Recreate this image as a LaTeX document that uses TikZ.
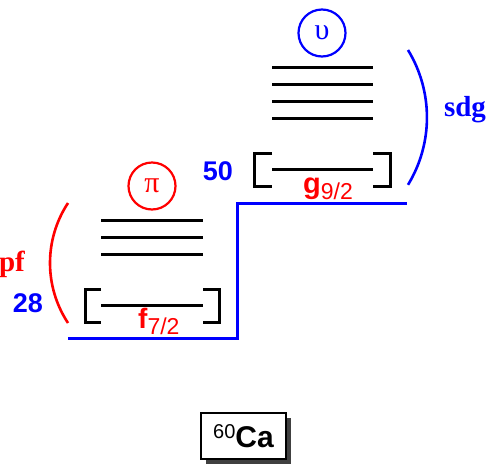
\documentclass[tikz,border=0pt]{standalone}
\usepackage{fontspec}
\setmainfont{Liberation Serif}
\setsansfont{Liberation Sans}
\begin{document}
\begin{tikzpicture}[x=1pt,y=-1pt,
  level/.style={line width=3pt,black},
  brk/.style={line width=3pt,black},
  shell/.style={line width=3pt,blue},
  magic/.style={font=\sffamily\bfseries\fontsize{27}{27}\selectfont,text=blue,inner sep=0pt},
  orb/.style={inner sep=0pt,text=red,font=\sffamily},
  ring/.style={circle,draw,line width=2.2pt,minimum size=47pt,inner sep=0pt,font=\fontsize{30}{30}\selectfont},
  grp/.style={font=\bfseries\fontsize{29}{29}\selectfont,inner sep=0pt}]
\useasboundingbox (0,0) rectangle (490,464);
% shell closure line
\draw[shell] (68,338) -- (237,338) -- (237,203) -- (407,203);
% left (proton) panel
\foreach \y in {220,237,254} \draw[level] (101,\y) -- (203,\y);
\draw[level] (101,305) -- (203,305);
\draw[brk] (101,289) -- (85,289) -- (85,322) -- (101,322);
\draw[brk] (203,289) -- (219,289) -- (219,322) -- (203,322);
\node[ring,draw=red,text=red] (pi) at (152,186) {π};
\node[orb,anchor=base west] (f72) at (138,328) {{\bfseries\fontsize{28}{28}\selectfont f}\raisebox{-6pt}{\fontsize{23}{23}\selectfont 7/2}};
\node[grp,text=red] (pf) at (12,264) {pf};
\node[magic] (n28) at (28,303) {28};
\draw[red,line width=2.6pt] (68,203) arc[start angle=213.4,end angle=146.6,radius=109];
% right (neutron) panel
\foreach \y in {67,84,101,118} \draw[level] (272,\y) -- (373,\y);
\draw[level] (272,169) -- (373,169);
\draw[brk] (272,153) -- (254,153) -- (254,186) -- (272,186);
\draw[brk] (373,153) -- (390,153) -- (390,186) -- (373,186);
\node[ring,draw=blue,text=blue] (nu) at (322,33) {υ};
\node[orb,anchor=base west] (g92) at (303,193) {{\bfseries\fontsize{29}{29}\selectfont g}\raisebox{-6pt}{\fontsize{23}{23}\selectfont 9/2}};
\node[grp,text=blue] (sdg) at (465,110) {sdg};
\node[magic] (n50) at (218,171) {50};
\draw[blue,line width=2.6pt] (408,50) arc[start angle=-31.4,end angle=31.4,radius=129.4];
% nucleus label
\fill[black!75] (206,418) rectangle (291,464);
\node[draw=black,fill=white,line width=1.5pt,minimum width=85pt,minimum height=46pt,inner sep=0pt,font=\sffamily] (ca) at (243.5,436)
  {\raisebox{9pt}{\fontsize{20}{20}\selectfont 60}{\bfseries\fontsize{30}{30}\selectfont Ca}};
\end{tikzpicture}
\end{document}
